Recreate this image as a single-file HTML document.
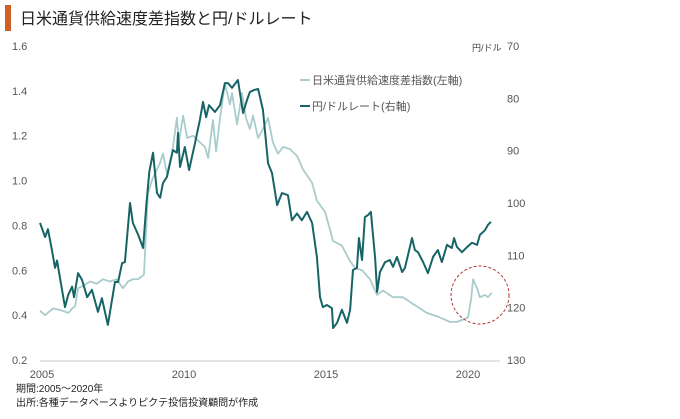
<!DOCTYPE html>
<html><head><meta charset="utf-8"><style>
body{margin:0;background:#fff;width:680px;height:414px;overflow:hidden;font-family:"Liberation Sans","Noto Sans CJK JP",sans-serif}
</style></head><body>
<svg width="680" height="414" xmlns="http://www.w3.org/2000/svg" font-family="Liberation Sans, Noto Sans CJK JP, sans-serif">
<rect x="5" y="5" width="6" height="26" fill="#d0602a"/>
<text x="20" y="24" font-size="16" fill="#222">日米通貨供給速度差指数と円/ドルレート</text>
<g id="axes"></g>
<g id="plot"></g>
<text x="472" y="51" font-size="9" fill="#444">円/ドル</text>
<line x1="300" y1="80" x2="310" y2="80" stroke="#a9cccc" stroke-width="2"/>
<text x="312" y="84" font-size="11" fill="#555">日米通貨供給速度差指数(左軸)</text>
<line x1="300" y1="106" x2="310" y2="106" stroke="#176466" stroke-width="2"/>
<text x="312" y="110" font-size="11" fill="#555">円/ドルレート(右軸)</text>
<circle cx="480" cy="295" r="29" fill="none" stroke="#b03a3a" stroke-width="1" stroke-dasharray="3,2"/>
<text x="16" y="392" font-size="10" fill="#222">期間:2005～2020年</text>
<text x="16" y="406" font-size="10" fill="#222">出所:各種データベースよりピクテ投信投資顧問が作成</text>
</svg>
<script>
const leftTicks=[1.6,1.4,1.2,1.0,0.8,0.6,0.4,0.2];
const rightTicks=[70,80,90,100,110,120,130];
const yearTicks=[2005,2010,2015,2020];
const idxYears=[2005.0,2005.18,2005.46,2005.78,2006.0,2006.13,2006.24,2006.34,2006.52,2006.76,2007.0,2007.21,2007.46,2007.7,2007.92,2008.1,2008.27,2008.45,2008.66,2008.8,2008.94,2009.23,2009.33,2009.47,2009.65,2009.82,2009.89,2010.04,2010.18,2010.39,2010.63,2010.81,2010.92,2011.09,2011.2,2011.34,2011.51,2011.69,2011.76,2011.94,2012.11,2012.25,2012.39,2012.5,2012.68,2012.85,2013.03,2013.2,2013.38,2013.56,2013.8,2014.05,2014.26,2014.58,2014.75,2015.04,2015.32,2015.63,2015.92,2016.1,2016.34,2016.62,2016.87,2017.08,2017.43,2017.78,2018.13,2018.62,2019.08,2019.43,2019.68,2019.89,2020.07,2020.18,2020.25,2020.39,2020.49,2020.67,2020.77,2020.91];
const idxValues=[0.42,0.40,0.43,0.42,0.41,0.43,0.44,0.52,0.53,0.55,0.54,0.56,0.55,0.56,0.52,0.55,0.56,0.56,0.58,0.94,1.0,1.08,1.12,1.03,1.12,1.28,1.17,1.29,1.19,1.2,1.17,1.15,1.1,1.27,1.13,1.28,1.43,1.34,1.39,1.25,1.39,1.28,1.23,1.29,1.19,1.23,1.28,1.17,1.12,1.15,1.14,1.11,1.05,0.99,0.91,0.86,0.73,0.71,0.64,0.61,0.6,0.56,0.49,0.51,0.48,0.48,0.45,0.41,0.39,0.37,0.37,0.38,0.39,0.47,0.56,0.52,0.48,0.49,0.48,0.5];
const yenYears=[2005.0,2005.18,2005.28,2005.42,2005.53,2005.6,2005.88,2005.99,2006.13,2006.2,2006.34,2006.48,2006.66,2006.83,2007.04,2007.18,2007.39,2007.64,2007.75,2007.89,2007.99,2008.17,2008.27,2008.45,2008.63,2008.75,2008.85,2008.98,2009.12,2009.23,2009.33,2009.47,2009.68,2009.82,2009.86,2009.93,2010.1,2010.25,2010.46,2010.63,2010.74,2010.85,2010.95,2011.16,2011.34,2011.51,2011.62,2011.76,2011.97,2012.15,2012.29,2012.39,2012.54,2012.68,2012.85,2013.03,2013.17,2013.35,2013.52,2013.73,2013.87,2014.05,2014.22,2014.4,2014.58,2014.75,2014.86,2014.96,2015.1,2015.28,2015.32,2015.46,2015.63,2015.81,2015.92,2016.02,2016.16,2016.23,2016.34,2016.44,2016.55,2016.65,2016.8,2016.87,2016.97,2017.15,2017.32,2017.43,2017.57,2017.75,2017.85,2018.1,2018.2,2018.31,2018.49,2018.66,2018.84,2019.01,2019.15,2019.33,2019.5,2019.58,2019.68,2019.86,2020.04,2020.21,2020.39,2020.49,2020.67,2020.77,2020.88];
const yenValues=[103.8,106.5,105,109,112.4,111,119.9,117.6,116,118,113.4,114.7,118,116.6,120.8,118.2,123.3,115.1,115.1,111.5,111.3,100,103.8,106,108.6,100,94,90.4,98.1,99,96.2,95,89.9,90.4,86.6,93.1,89.3,93.7,88.5,84.1,80.7,83.6,81.3,82.6,81.3,77.1,77.1,78,76.5,82.8,80.3,78.8,78.4,78.2,82.2,92.4,94.3,100.4,98.1,98.5,103.3,102,103.3,101.7,103.8,110.3,118,119.9,119.5,120.1,123.9,122.9,120.4,122.9,120.4,112.8,112.4,106.7,110.9,102.7,102.3,101.7,110.5,117,113.2,111.3,110.9,112.2,110.3,113.2,112.4,106.7,109,109.4,111.3,113.4,110.3,109,111.3,108,108.6,106.7,108.4,109.4,108.4,107.6,108,106.1,105.2,104.2,103.6];
const NS="http://www.w3.org/2000/svg";
const xS=y=>40+(y-2005)*28.4;
const yL=v=>360-(v-0.2)*224.3;
const yR=r=>46+(r-70)*5.233;
const axes=document.getElementById('axes'),plot=document.getElementById('plot');
function mk(tag,attrs,parent,txt){const e=document.createElementNS(NS,tag);for(const k in attrs)e.setAttribute(k,attrs[k]);if(txt!==undefined)e.textContent=txt;parent.appendChild(e);return e;}
const base=mk('line',{x1:40,x2:500,y1:361,y2:361,stroke:'#e4e4e4','stroke-width':2},axes);


leftTicks.forEach(v=>{const t=mk('text',{x:12,y:yL(v)+4,'font-size':11,fill:'#555'},axes,v.toFixed(1));

});
rightTicks.forEach(r=>{const t=mk('text',{x:507,y:yR(r)+4,'font-size':11,fill:'#555'},axes,String(r));

});
yearTicks.forEach(y=>{const t=mk('text',{x:xS(y)+2,y:378,'font-size':11,fill:'#555','text-anchor':'middle'},axes,String(y));

});
const p1=mk('polyline',{points:idxYears.map((y,i)=>xS(y)+','+yL(idxValues[i])).join(' '),fill:'none',stroke:'#a9cccc','stroke-width':1.8,'stroke-linejoin':'round'},plot);


const p2=mk('polyline',{points:yenYears.map((y,i)=>xS(y)+','+yR(yenValues[i])).join(' '),fill:'none',stroke:'#176466','stroke-width':2,'stroke-linejoin':'round'},plot);


</script>
</body></html>
